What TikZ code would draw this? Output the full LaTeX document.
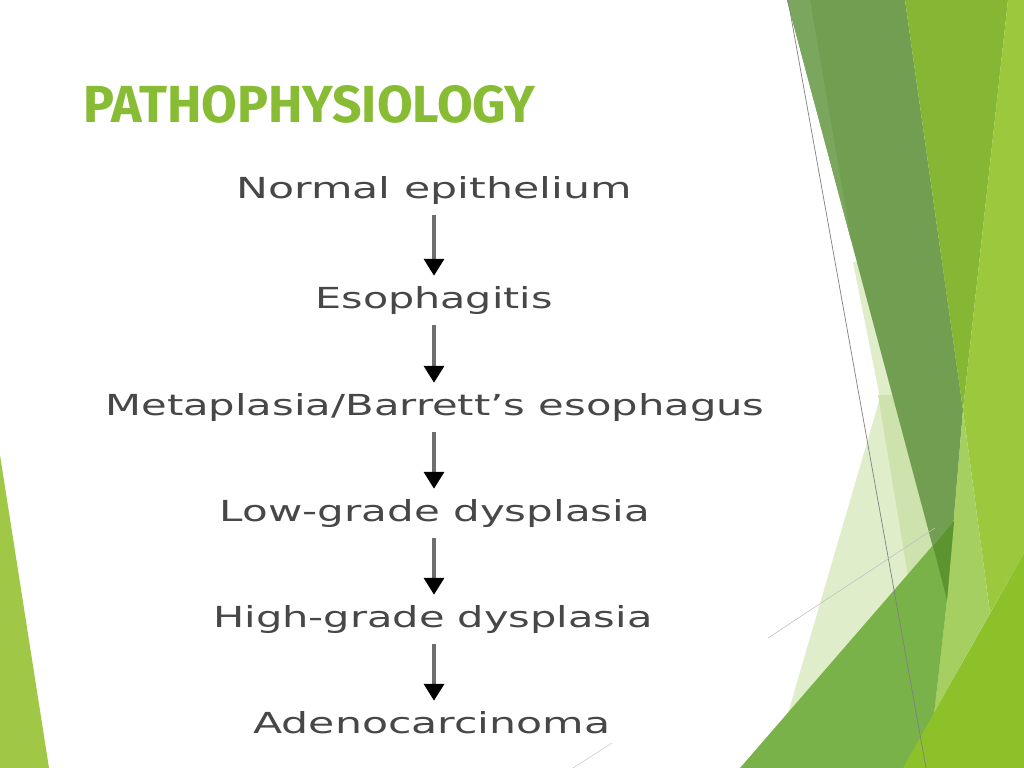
\documentclass[tikz,border=0pt]{standalone}
\usepackage{fontspec}
\usepackage{graphicx}
\usetikzlibrary{arrows.meta}
\newfontfamily\titlefont{Fira Sans}
\newfontfamily\stagefont{DejaVu Sans}
\definecolor{titlegreen}{HTML}{88BC34}
\definecolor{stagegray}{HTML}{474747}
\definecolor{arrowgray}{HTML}{6E6E6E}
\definecolor{palelight}{HTML}{E0EDCB}
\definecolor{palemid}{HTML}{CDE2AC}
\definecolor{darkleaf}{HTML}{719E50}
\definecolor{darksliver}{HTML}{7AA75D}
\definecolor{midleaf}{HTML}{86B734}
\definecolor{rightleaf}{HTML}{9BC83C}
\definecolor{lightleaf}{HTML}{A5CF60}
\definecolor{baseleaf}{HTML}{7AB24A}
\definecolor{deepleaf}{HTML}{5C9530}
\definecolor{cornerleaf}{HTML}{8DC12A}
\definecolor{leftleaf}{HTML}{A0C846}
\newcommand{\stagebox}[2]{\resizebox{#1}{0.55cm}{#2}}

\begin{document}
\begin{tikzpicture}[x=0.025cm, y=-0.025cm,
  stage/.style={inner sep=0pt, text height=0.55cm, text depth=0.175cm, anchor=base, text=stagegray, font=\stagefont},
  flow/.style={arrowgray, line width=2.2pt, shorten <=0.25cm, shorten >=0.25cm,
    -{Triangle[width=0.5cm, length=0.42cm, color=black]}}]
\useasboundingbox (0,0) rectangle (1024,768);
\fill[white] (0,0) rectangle (1024,768);

\fill[leftleaf] (0,455) -- (49,768) -- (0,768) -- cycle;
\fill[palelight] (853,262) -- (880,398) -- (772,768) -- (960,768) -- (960,262) -- cycle;
\fill[palemid] (878,395) -- (912,600) -- (960,600) -- (960,395) -- cycle;
\fill[darkleaf] (787,0) -- (905,0) -- (963,410) -- (947,600) -- cycle;
\fill[darksliver] (787,0) -- (810,0) -- (851,240) -- cycle;
\fill[midleaf] (905,0) -- (1008,0) -- (963,410) -- cycle;
\fill[rightleaf] (1008,0) -- (1024,0) -- (1024,553) -- (990,613) -- (963,410) -- cycle;
\fill[lightleaf] (963,410) -- (990,613) -- (903,768) -- (928,768) -- (947,600) -- cycle;
\fill[baseleaf] (740,768) -- (954,521) -- (947,600) -- (928,768) -- cycle;
\fill[deepleaf] (933,546) -- (954,521) -- (947,600) -- cycle;
\fill[cornerleaf] (903,768) -- (1024,553) -- (1024,768) -- cycle;
\draw[gray, line width=0.5pt] (788,0) -- (926,768);
\draw[black!25, line width=0.4pt] (768,638) -- (935,528);
\draw[black!20, line width=0.4pt] (573,768) -- (612,743);

\node[anchor=base west, inner sep=0pt, text=titlegreen, font=\titlefont\bfseries] (title) at (83,122)
  {\resizebox{11.3cm}{0.925cm}{PATHOPHYSIOLOGY}};

\node[stage] (normal) at (434,198) {\stagebox{9.875cm}{Normal epithelium}};
\node[stage] (esoph) at (434,308) {\stagebox{5.925cm}{Esophagitis}};
\node[stage] (barrett) at (435,415) {\stagebox{16.475cm}{Metaplasia/Barrett’s esophagus}};
\node[stage] (lowgrade) at (435,521) {\stagebox{10.75cm}{Low-grade dysplasia}};
\node[stage] (highgrade) at (433,627) {\stagebox{10.975cm}{High-grade dysplasia}};
\node[stage] (adeno) at (432,733) {\stagebox{8.925cm}{Adenocarcinoma}};

\draw[flow] (normal.south -| 434,0) -- (esoph.north -| 434,0);
\draw[flow] (esoph.south -| 434,0) -- (barrett.north -| 434,0);
\draw[flow] (barrett.south -| 434,0) -- (lowgrade.north -| 434,0);
\draw[flow] (lowgrade.south -| 434,0) -- (highgrade.north -| 434,0);
\draw[flow] (highgrade.south -| 434,0) -- (adeno.north -| 434,0);
\end{tikzpicture}
\end{document}
